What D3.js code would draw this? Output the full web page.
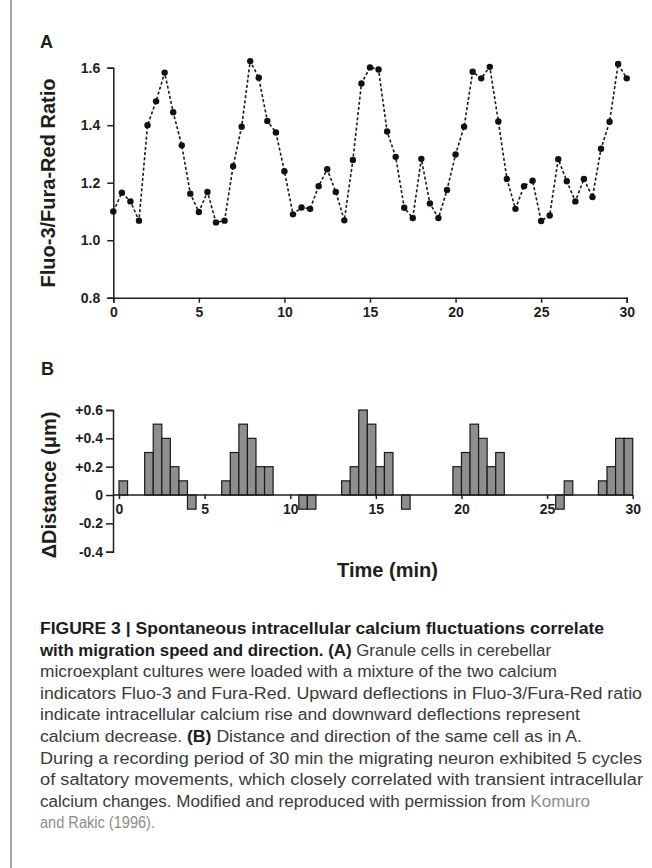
<!DOCTYPE html>
<html>
<head>
<meta charset="utf-8">
<script src="https://cdn.jsdelivr.net/npm/d3@7"></script>
<style>
  html, body { margin: 0; padding: 0; background: #fff; }
  svg { display: block; }
  .axis path, .axis line { stroke: #1e1e1e; stroke-width: 1.5px; }
  .axis text { font-family: "Liberation Sans", Arial, sans-serif; font-weight: bold; font-size: 14px; fill: #1e1e1e; }
</style>
</head>
<body>
<div id="chart"></div>
<script>
// Panel A: Fluo-3/Fura-Red ratio sampled every 0.5 min
const ratioTime = [0, 0.5, 1, 1.5, 2, 2.5, 3, 3.5, 4, 4.5, 5, 5.5, 6, 6.5, 7, 7.5, 8, 8.5, 9, 9.5,
  10, 10.5, 11, 11.5, 12, 12.5, 13, 13.5, 14, 14.5, 15, 15.5, 16, 16.5, 17, 17.5, 18, 18.5, 19, 19.5,
  20, 20.5, 21, 21.5, 22, 22.5, 23, 23.5, 24, 24.5, 25, 25.5, 26, 26.5, 27, 27.5, 28, 28.5, 29, 29.5, 30];
const ratioValue = [1.10, 1.165, 1.135, 1.068, 1.40, 1.483, 1.583, 1.445, 1.33, 1.162, 1.098, 1.168, 1.062, 1.068,
  1.257, 1.395, 1.623, 1.565, 1.415, 1.375, 1.24, 1.09, 1.114, 1.109, 1.188, 1.247, 1.168, 1.069,
  1.279, 1.545, 1.601, 1.594, 1.378, 1.29, 1.113, 1.077, 1.283, 1.128, 1.077, 1.175, 1.298, 1.395,
  1.586, 1.563, 1.603, 1.413, 1.213, 1.109, 1.188, 1.207, 1.067, 1.086, 1.282, 1.205, 1.135, 1.213,
  1.15, 1.318, 1.412, 1.613, 1.563];
const ratioTicks = [0.8, 1.0, 1.2, 1.4, 1.6];

// Panel B: displacement per 0.5 min bin (bins with no movement left out)
const binStart = [0, 1.5, 2, 2.5, 3, 3.5, 4, 6, 6.5, 7, 7.5, 8, 8.5, 10.5, 11, 13, 13.5, 14, 14.5, 15, 15.5,
  16.5, 19.5, 20, 20.5, 21, 21.5, 22, 25.5, 26, 28, 28.5, 29, 29.5];
const binDelta = [0.1, 0.3, 0.5, 0.4, 0.2, 0.1, -0.1, 0.1, 0.3, 0.5, 0.4, 0.2, 0.2, -0.1, -0.1, 0.1, 0.2, 0.6, 0.5, 0.2, 0.3,
  -0.1, 0.2, 0.3, 0.5, 0.4, 0.2, 0.3, -0.1, 0.1, 0.1, 0.2, 0.4, 0.4];
const deltaTicks = [0.6, 0.4, 0.2, 0, -0.2, -0.4];
const deltaTickLabels = ['+0.6', '+0.4', '+0.2', '0', '-0.2', '-0.4'];

const timeTicks = [0, 5, 10, 15, 20, 25, 30];

// Caption, one entry per printed line: [text, style] pieces
const captionLines = [
  [['FIGURE 3 | Spontaneous intracellular calcium fluctuations correlate', 'b']],
  [['with migration speed and direction. (A)', 'b'], [' Granule cells in cerebellar', 'r']],
  [['microexplant cultures were loaded with a mixture of the two calcium', 'r']],
  [['indicators Fluo-3 and Fura-Red. Upward deflections in Fluo-3/Fura-Red ratio', 'r']],
  [['indicate intracellular calcium rise and downward deflections represent', 'r']],
  [['calcium decrease. ', 'r'], ['(B)', 'b'], [' Distance and direction of the same cell as in A.', 'r']],
  [['During a recording period of 30 min the migrating neuron exhibited 5 cycles', 'r']],
  [['of saltatory movements, which closely correlated with transient intracellular', 'r']],
  [['calcium changes. Modified and reproduced with permission from ', 'r'], ['Komuro', 'l']],
  [['and Rakic (1996).', 'l']],
];
const captionWidths = [564, 511, 517, 602, 540, 542, 602, 603, 550, 115];

const cfg = {
  width: 652,
  height: 868,
  font: '"Liberation Sans", Arial, sans-serif',
  ink: '#1e1e1e',
  barFill: '#8e8e8e',
};

const svg = d3.select('#chart').append('svg')
  .attr('width', cfg.width)
  .attr('height', cfg.height);

// grey rule down the left edge
svg.append('line')
  .attr('x1', 11).attr('x2', 11).attr('y1', 0).attr('y2', cfg.height)
  .style('stroke', '#8a8a8a').style('stroke-width', 1.5);

// ---------- Panel A ----------
const xA = d3.scaleLinear().domain([0, 30]).range([113.3, 626.7]);
const yA = d3.scaleLinear().domain([0.8, 1.6]).range([297.7, 67.7]);

svg.append('g')
  .attr('class', 'axis')
  .attr('transform', `translate(${xA(0)},0)`)
  .call(d3.axisLeft(yA).tickValues(ratioTicks).tickFormat(d3.format('.1f')).tickSizeOuter(0).tickSize(6).tickPadding(7));

svg.append('g')
  .attr('class', 'axis')
  .attr('transform', `translate(0,${yA(0.8)})`)
  .call(d3.axisBottom(xA).tickValues(timeTicks).tickFormat(d3.format('d')).tickSizeOuter(0).tickSize(5).tickPadding(4));

const ratioPoints = ratioTime.map((t, i) => ({ t, v: ratioValue[i] }));

svg.append('path')
  .datum(ratioPoints)
  .attr('d', d3.line().x(d => xA(d.t)).y(d => yA(d.v)))
  .style('fill', 'none')
  .style('stroke', '#1a1a1a')
  .style('stroke-width', 1.6)
  .style('stroke-dasharray', '3,2.2');

svg.selectAll('circle.pt')
  .data(ratioPoints).enter()
  .append('circle')
  .attr('class', 'pt')
  .attr('cx', d => xA(d.t))
  .attr('cy', d => yA(d.v))
  .attr('r', 3.2)
  .style('fill', '#111');

svg.append('text')
  .attr('x', 40).attr('y', 48)
  .style('font-family', cfg.font).style('font-weight', 'bold').style('font-size', '18px')
  .style('fill', cfg.ink)
  .text('A');

svg.append('text')
  .attr('transform', `translate(55,${183}) rotate(-90)`)
  .attr('text-anchor', 'middle')
  .style('font-family', cfg.font).style('font-weight', 'bold').style('font-size', '20px')
  .style('fill', cfg.ink)
  .text('Fluo-3/Fura-Red Ratio');

// ---------- Panel B ----------
const xB = d3.scaleLinear().domain([0, 30]).range([119, 632.7]);
const yB = d3.scaleLinear().domain([-0.4, 0.6]).range([551.7, 410]);

svg.append('g')
  .attr('class', 'axis')
  .attr('transform', 'translate(113,0)')
  .call(d3.axisLeft(yB).tickValues(deltaTicks)
    .tickFormat((d, i) => deltaTickLabels[i])
    .tickSizeOuter(0).tickSize(7).tickPadding(3));

const bars = binStart.map((t, i) => ({ t, v: binDelta[i] }));

svg.selectAll('rect.bar')
  .data(bars).enter()
  .append('rect')
  .attr('class', 'bar')
  .attr('x', d => xB(d.t))
  .attr('width', d => xB(d.t + 0.5) - xB(d.t))
  .attr('y', d => yB(Math.max(0, d.v)))
  .attr('height', d => Math.abs(yB(d.v) - yB(0)))
  .style('fill', cfg.barFill)
  .style('stroke', '#1a1a1a')
  .style('stroke-width', 1.2);

const xAxisB = svg.append('g')
  .attr('class', 'axis')
  .attr('transform', `translate(0,${yB(0)})`)
  .call(d3.axisBottom(xB).tickValues(timeTicks).tickFormat(d3.format('d')).tickSizeOuter(0).tickSize(4).tickPadding(5));
// zero line reaches back to the y axis
xAxisB.select('.domain').attr('d', `M113,0H${xB(30)}`);

svg.append('text')
  .attr('x', 41).attr('y', 375)
  .style('font-family', cfg.font).style('font-weight', 'bold').style('font-size', '18px')
  .style('fill', cfg.ink)
  .text('B');

svg.append('text')
  .attr('transform', 'translate(56,485) rotate(-90)')
  .attr('text-anchor', 'middle')
  .style('font-family', cfg.font).style('font-weight', 'bold').style('font-size', '20px')
  .style('fill', cfg.ink)
  .text('\u0394Distance (\u03bcm)');

svg.append('text')
  .attr('x', 387.5).attr('y', 577)
  .attr('text-anchor', 'middle')
  .style('font-family', cfg.font).style('font-weight', 'bold').style('font-size', '20px')
  .style('fill', cfg.ink)
  .text('Time (min)');

// ---------- Caption ----------
const styleOf = {
  b: { weight: 'bold', fill: '#1c1c1c' },
  r: { weight: 'normal', fill: '#3a3a3a' },
  l: { weight: 'normal', fill: '#8c8c8c' },
};

const caption = svg.append('g')
  .style('font-family', '"Liberation Sans Narrow", "Liberation Sans", Arial, sans-serif')
  .style('font-size', '16px');

captionLines.forEach((pieces, i) => {
  const line = caption.append('text')
    .attr('x', 40)
    .attr('y', 634 + i * 21.6)
    .attr('textLength', captionWidths[i])
    .attr('lengthAdjust', 'spacingAndGlyphs');
  pieces.forEach(([txt, s]) => {
    line.append('tspan')
      .style('font-weight', styleOf[s].weight)
      .style('fill', styleOf[s].fill)
      .text(txt);
  });
});
</script>
</body>
</html>
